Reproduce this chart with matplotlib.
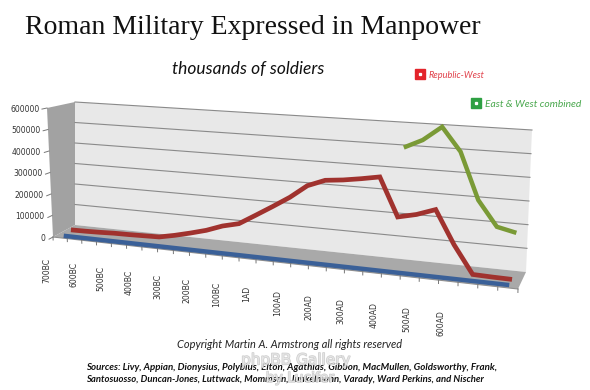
import numpy as np
import matplotlib
matplotlib.use("Agg")
import matplotlib.pyplot as plt
from matplotlib.transforms import Transform
from matplotlib.patches import Polygon
from matplotlib.lines import Line2D
from matplotlib.legend_handler import HandlerTuple
from matplotlib.font_manager import FontProperties
import matplotlib.patheffects as pe

# ---------------- data ----------------
categories = ["700BC", "650BC", "600BC", "550BC", "500BC", "450BC", "400BC",
              "350BC", "300BC", "250BC", "200BC", "150BC", "100BC", "50BC",
              "1AD", "50AD", "100AD", "150AD", "200AD", "250AD", "300AD",
              "350AD", "400AD", "450AD", "500AD", "550AD", "600AD"]
republic_west = [9000, 10000, 12000, 15000, 16000, 18000, 20000,
                 35000, 53000, 73000, 100000, 118000, 163000, 209000,
                 257000, 315000, 345000, 353000, 365000, 379000, 214000,
                 232000, 260000, 119000, 3000, 1000, 0]
east_west_combined = [np.nan] * 20 + [497000, 535000, 597000, 496000,
                                      296000, 190000, 172000]
front_series = [0] * 27
y_ticks = [0, 100000, 200000, 300000, 400000, 500000, 600000]
label_every = 2

title = "Roman Military Expressed in Manpower"
subtitle = "thousands of soldiers"

# ---------------- 3-D box projection ----------------
VMAX = 600000.0
NCAT = len(categories)
C_LO, C_HI = -0.5, NCAT - 0.5
# box corners in figure pixels: [depth][height][side] -> (x, y)
CORNERS = np.array([
    [[(75, 225), (526, 272)], [(75, 102), (532, 130)]],   # back wall
    [[(53, 237), (518, 289)], [(47, 108), (522, 140)]],   # front
], dtype=float)


def _q(c):
    return c * (13.83 + 0.1115 * c)


def project(c, v, d):
    c = np.asarray(c, float)
    t = (_q(c) - _q(C_LO)) / (_q(C_HI) - _q(C_LO))
    w = np.asarray(v, float) / VMAX
    d = np.asarray(d, float)
    t, w, d = np.broadcast_arrays(t, w, d)
    out = np.zeros(t.shape + (2,))
    for i, wd in ((0, 1 - d), (1, d)):
        for j, ww in ((0, 1 - w), (1, w)):
            for k, wt in ((0, 1 - t), (1, t)):
                out += (wd * ww * wt)[..., None] * CORNERS[i, j, k]
    return out


class PlaneTransform(Transform):
    input_dims = 2
    output_dims = 2
    is_separable = False
    has_inverse = False

    def __init__(self, mapper):
        super().__init__()
        self.mapper = mapper

    def transform_non_affine(self, values):
        values = np.asarray(values, float).reshape(-1, 2)
        c, v, d = self.mapper(values[:, 0], values[:, 1])
        return project(c, v, d)


fig = plt.figure(figsize=(5.9, 3.9), dpi=100)
ax = fig.add_axes([0, 0, 1, 1])
ax.set_autoscale_on(False)
ax.set_xlim(0, 590)
ax.set_ylim(390, 0)
ax.axis("off")


def depth_plane(d):
    return PlaneTransform(lambda a, b: (a, b, np.full_like(a, d))) + ax.transData


side_plane = PlaneTransform(lambda a, b: (np.full_like(a, C_LO), b, a)) + ax.transData
floor_plane = PlaneTransform(lambda a, b: (a, np.zeros_like(a), b)) + ax.transData

back = depth_plane(0.0)
front = depth_plane(1.0)

# walls and floor
ax.add_patch(Polygon([(C_LO, 0), (C_HI, 0), (C_HI, VMAX), (C_LO, VMAX)],
                     closed=True, transform=back, facecolor="#e8e8e8",
                     edgecolor="none", zorder=1))
ax.add_patch(Polygon([(0, 0), (1, 0), (1, VMAX), (0, VMAX)], closed=True,
                     transform=side_plane, facecolor="#a2a2a2",
                     edgecolor="none", zorder=1))
ax.add_patch(Polygon([(C_LO, 0), (C_HI, 0), (C_HI, 1), (C_LO, 1)], closed=True,
                     transform=floor_plane, facecolor="#a9a9a9",
                     edgecolor="none", zorder=1))

# gridlines on back wall
for val in y_ticks[1:]:
    ax.plot([C_LO, C_HI], [val, val], transform=back, color="#8a8a8a",
            lw=0.8, zorder=2)

# y ticks & labels on the side wall front edge
for val in y_ticks:
    ax.plot([1.0, 1.18], [val, val], transform=side_plane, color="#777777",
            lw=0.7, zorder=2)
    ax.annotate(str(val), xy=(1.0, val), xycoords=side_plane,
                xytext=(-5.5, -1), textcoords="offset points", ha="right",
                va="center", fontsize=5.5, color="#333333", zorder=5)

# x axis ticks along the floor front edge
ax.plot([C_LO, C_HI], [0, 0], transform=front, color="#8f8f8f", lw=0.8, zorder=2)
for k in range(NCAT + 1):
    ax.plot([k - 0.5, k - 0.5], [0, -14000], transform=front, color="#777777",
            lw=0.7, zorder=2)

# category labels (every second category)
for i, lab in enumerate(categories):
    if i % label_every:
        continue
    lx = 47 + 13.25 * i + 0.0725 * i * i
    ly = 258 + 2.0 * i
    ax.text(lx, ly, lab, rotation=90, ha="center", va="top", fontsize=5.6,
            color="#333333", zorder=5)

# series ribbons (back to front)
idx = np.arange(NCAT)
ax.plot(idx, east_west_combined, transform=depth_plane(1 / 6), color="#7a9a36",
        lw=3.2, solid_joinstyle="miter", solid_capstyle="butt", zorder=3)
ax.plot(idx, republic_west, transform=depth_plane(0.5), color="#a0322e",
        lw=3.4, solid_joinstyle="miter", solid_capstyle="butt", zorder=3)
ax.plot(idx, front_series, transform=depth_plane(5 / 6), color="#3a6098",
        lw=3.2, solid_capstyle="butt", zorder=3)

# titles
ax.text(253, 27, title, ha="center", va="center", fontsize=20,
        family="Liberation Serif", color="#111111")
ax.text(248, 69, subtitle, ha="center", va="center", fontsize=12.5,
        family="Lato", style="italic", color="#111111")


# legends
def make_legend(label, sq_color, txt_color, anchor, size):
    sq = Line2D([], [], marker="s", ms=6.5, mfc=sq_color, mec=sq_color, ls="none")
    dot = Line2D([], [], marker="s", ms=1.4, mfc="white", mec="white", ls="none")
    lg = ax.legend(handles=[(sq, dot)], labels=[label],
                   handler_map={tuple: HandlerTuple(ndivide=1, pad=0)},
                   loc="center left", bbox_to_anchor=anchor,
                   bbox_transform=ax.transData, frameon=False,
                   prop=FontProperties(family="Lato", style="italic", size=size),
                   labelcolor=txt_color, handlelength=0.9, handletextpad=0.5,
                   borderpad=0, borderaxespad=0)
    return lg


lg1 = make_legend("Republic-West", "#e3242b", "#e0404a", (416, 75), 6.6)
ax.add_artist(lg1)
make_legend("East & West combined", "#2ea043", "#4aa84e", (471, 104), 7.4)

# footer
ax.text(290, 345, "Copyright Martin A. Armstrong all rights reserved",
        ha="center", va="center", fontsize=7.9, family="Lato", style="italic",
        color="#222222")
ax.text(292, 367, "Sources: Livy, Appian, Dionysius, Polybius, Elton, Agathias, "
        "Gibbon, MacMullen, Goldsworthy, Frank,", ha="center", va="center",
        fontsize=7.0, family="Lato", style="italic", weight="bold", color="#111111")
ax.text(285, 379, "Santosuosso, Duncan-Jones, Luttwack, Mommsen, Junkelmann, "
        "Varady, Ward Perkins, and Nischer", ha="center", va="center",
        fontsize=6.8, family="Lato", style="italic", weight="bold", color="#111111")

# watermark
wm = [pe.withStroke(linewidth=1.0, foreground="#b4b4b4")]
ax.text(296, 360, "phpBB Gallery", ha="center", va="center", fontsize=11,
        color="#f2f2f2", alpha=0.65, path_effects=wm, zorder=6)
ax.text(300, 378, "by Lucifer", ha="center", va="center", fontsize=10,
        color="#f2f2f2", alpha=0.65, path_effects=wm, zorder=6)

ax.set_xlim(0, 590)
ax.set_ylim(390, 0)
fig.savefig("out.png", dpi=100)
